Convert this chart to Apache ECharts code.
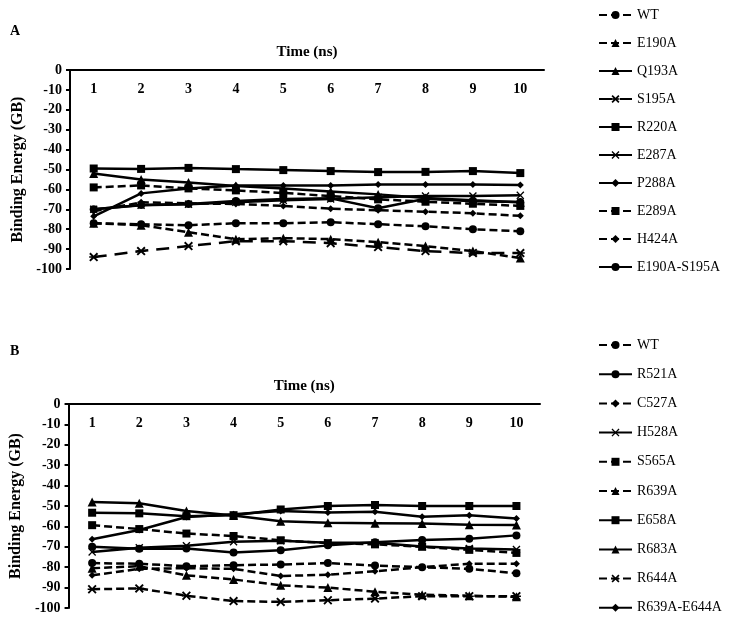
<!DOCTYPE html>
<html><head><meta charset="utf-8">
<script src="https://cdn.jsdelivr.net/npm/echarts@6/dist/echarts.min.js"></script>
<style>html,body{margin:0;padding:0;background:#fff}#c{width:734px;height:624px}</style>
</head><body><div id="c"></div>
<script>
// ---------- data ----------
const categories = ['1','2','3','4','5','6','7','8','9','10'];

// Panel A
const namesA = ['WT','E190A','Q193A','S195A','R220A','E287A','P288A','E289A','H424A','E190A-S195A'];
const A_WT        = [-77, -77.5, -78, -77, -77, -76.5, -77.5, -78.5, -80, -81];
const A_E190A     = [-77, -78, -81.5, -85, -84.5, -85, -86.5, -88.5, -91, -94.5];
const A_Q193A     = [-52, -55, -56.5, -58.3, -59.5, -61, -62.5, -64.3, -65.5, -66.5];
const A_S195A     = [-94, -91, -88.5, -86, -86, -87, -89, -91, -92, -92];
const A_R220A     = [-49.5, -49.7, -49.2, -49.8, -50.3, -50.8, -51.3, -51.2, -50.8, -51.8];
const A_E287A     = [-70, -68, -67.5, -66.5, -65.5, -64.8, -64, -63.3, -63.3, -63];
const A_P288A     = [-73.5, -62, -59.5, -58, -58, -58, -57.5, -57.5, -57.5, -57.8];
const A_E289A     = [-59, -58, -59.5, -60.5, -61.8, -63.3, -65, -66.2, -67.2, -68.3];
const A_H424A     = [-71, -66.5, -67, -67.3, -68.3, -69.7, -70.5, -71.2, -72, -73.3];
const A_E190A_S195A = [-70, -67.8, -67.3, -65.8, -64.8, -64.5, -69.5, -64.7, -66, -66.3];
const valuesA = [A_WT, A_E190A, A_Q193A, A_S195A, A_R220A, A_E287A, A_P288A, A_E289A, A_H424A, A_E190A_S195A];

// Panel B
const namesB = ['WT','R521A','C527A','H528A','S565A','R639A','E658A','R683A','R644A','R639A-E644A'];
const B_WT        = [-78, -78.3, -79.5, -79, -78.7, -78, -79.2, -80, -80.8, -83];
const B_R521A     = [-70, -71, -70.8, -72.8, -71.7, -69.3, -67.8, -66.7, -66, -64.4];
const B_C527A     = [-84, -80.8, -80.5, -80.8, -84.3, -83.7, -82, -80, -78.3, -78.3];
const B_H528A     = [-72.5, -70.5, -69.5, -67.5, -67, -68, -68, -69.8, -70.8, -71.3];
const B_S565A     = [-59.4, -61.3, -63.5, -64.7, -66.8, -68.2, -68.8, -70, -71.5, -73];
const B_R639A     = [-80.5, -79.5, -84, -86, -88.9, -90, -92, -93.5, -94, -94.5];
const B_E658A     = [-53.3, -53.6, -55, -54.5, -51.7, -50, -49.5, -50, -50, -50];
const B_R683A     = [-48, -48.6, -52.5, -54.7, -57.5, -58.2, -58.4, -58.6, -59.2, -59.3];
const B_R644A     = [-90.8, -90.4, -94, -96.6, -97, -96.2, -95.4, -94.2, -94.2, -94.2];
const B_R639A_E644A = [-66.3, -61.8, -55.4, -54, -52.5, -53.2, -52.8, -55.3, -54.5, -56.1];
const valuesB = [B_WT, B_R521A, B_C527A, B_H528A, B_S565A, B_R639A, B_E658A, B_R683A, B_R644A, B_R639A_E644A];

// ---------- styles ----------
const XSYM = 'path://M0,1.2 L1.2,0 L5,3.8 L8.8,0 L10,1.2 L6.2,5 L10,8.8 L8.8,10 L5,6.2 L1.2,10 L0,8.8 L3.8,5 Z';
const ASTSYM = 'path://M0,1.5 L1.5,0 L5,3.5 L8.5,0 L10,1.5 L6.5,5 L10,8.5 L8.5,10 L5,6.5 L1.5,10 L0,8.5 L3.5,5 Z M0,4.2 L10,4.2 L10,5.8 L0,5.8 Z';
const DASH = [8, 4];
const LONGDASH = [13, 8];
const styleA = {
  'WT': {dash: DASH, sym: 'circle', size: 8},
  'E190A': {dash: DASH, sym: 'triangle', size: 9},
  'Q193A': {dash: 'solid', sym: 'triangle', size: 9},
  'S195A': {dash: LONGDASH, sym: ASTSYM, size: 9},
  'R220A': {dash: 'solid', sym: 'rect', size: 8},
  'E287A': {dash: 'solid', sym: XSYM, size: 8},
  'P288A': {dash: 'solid', sym: 'diamond', size: 7},
  'E289A': {dash: DASH, sym: 'rect', size: 8},
  'H424A': {dash: DASH, sym: 'diamond', size: 7},
  'E190A-S195A': {dash: 'solid', sym: 'circle', size: 8}
};
const styleB = {
  'WT': {dash: DASH, sym: 'circle', size: 8},
  'R521A': {dash: 'solid', sym: 'circle', size: 8},
  'C527A': {dash: DASH, sym: 'diamond', size: 7},
  'H528A': {dash: 'solid', sym: XSYM, size: 8},
  'S565A': {dash: DASH, sym: 'rect', size: 8},
  'R639A': {dash: DASH, sym: 'triangle', size: 9},
  'E658A': {dash: 'solid', sym: 'rect', size: 8},
  'R683A': {dash: 'solid', sym: 'triangle', size: 9},
  'R644A': {dash: DASH, sym: ASTSYM, size: 9},
  'R639A-E644A': {dash: 'solid', sym: 'diamond', size: 7}
};

const FONT = 'Liberation Serif';
function mkSeries(names, values, styles, idx) {
  return names.map((n, i) => {
    const s = styles[n];
    return {
      name: n, type: 'line', xAxisIndex: idx, yAxisIndex: idx,
      data: values[i], symbol: s.sym, symbolSize: s.size, showSymbol: true,
      lineStyle: {color: '#000', width: 2.5, type: s.dash},
      itemStyle: {color: '#000', borderWidth: 0},
      emphasis: {disabled: true}, animation: false, z: 3
    };
  });
}
function xAx(idx) {
  return {
    type: 'category', data: categories, gridIndex: idx, position: 'top',
    boundaryGap: true,
    axisLine: {onZero: false, lineStyle: {color: '#000', width: 2}},
    axisTick: {alignWithLabel: true, length: 4, lineStyle: {color: '#000', width: 2}},
    axisLabel: {inside: true, margin: 12, color: '#000', fontFamily: FONT, fontWeight: 'bold', fontSize: 14},
    name: 'Time (ns)', nameLocation: 'middle', nameGap: 10,
    nameTextStyle: {color: '#000', fontFamily: FONT, fontWeight: 'bold', fontSize: 15},
    splitLine: {show: false}
  };
}
function yAx(idx) {
  return {
    type: 'value', gridIndex: idx, min: -100, max: 0, interval: 10,
    axisLine: {show: true, onZero: false, lineStyle: {color: '#000', width: 2}},
    axisTick: {show: true, length: 4, lineStyle: {color: '#000', width: 2}},
    axisLabel: {margin: 8, color: '#000', fontFamily: FONT, fontWeight: 'bold', fontSize: 14},
    name: 'Binding Energy (GB)', nameLocation: 'middle', nameGap: 42, nameRotate: 90,
    nameTextStyle: {color: '#000', fontFamily: FONT, fontWeight: 'bold', fontSize: 16},
    splitLine: {show: false}
  };
}
function legendOf(names, top, gap) {
  return {
    data: names, orient: 'vertical', left: 593, top: top,
    itemWidth: 33, itemHeight: 10, itemGap: gap, selectedMode: false,
    textStyle: {color: '#000', fontFamily: FONT, fontSize: 14, lineHeight: 14}
  };
}

const chart = echarts.init(document.getElementById('c'), null, {renderer: 'canvas'});
chart.setOption({
  animation: false,
  backgroundColor: '#fff',
  grid: [
    {left: 70, top: 70, width: 474, height: 199},
    {left: 68, top: 404, width: 472, height: 204}
  ],
  xAxis: [xAx(0), xAx(1)],
  yAxis: [yAx(0), yAx(1)],
  legend: [legendOf(namesA, 3, 14), legendOf(namesB, 333, 15.2)],
  graphic: [
    {type: 'text', left: 10, top: 24, style: {text: 'A', font: 'bold 14px "Liberation Serif"', fill: '#000'}},
    {type: 'text', left: 10, top: 344, style: {text: 'B', font: 'bold 14px "Liberation Serif"', fill: '#000'}}
  ],
  series: mkSeries(namesA, valuesA, styleA, 0).concat(mkSeries(namesB, valuesB, styleB, 1))
});
</script>
</body></html>
